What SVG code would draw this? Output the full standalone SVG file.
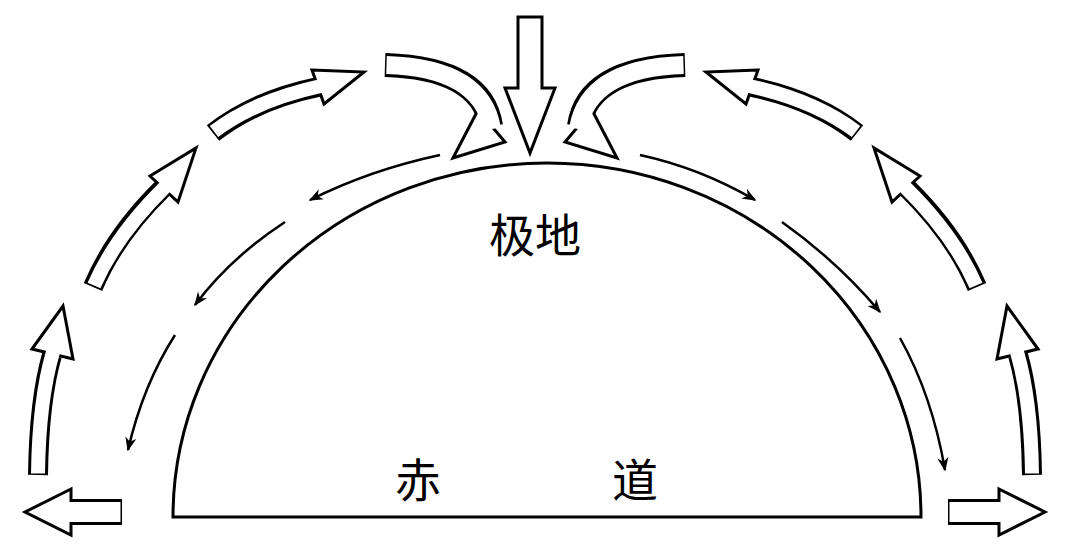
<svg xmlns="http://www.w3.org/2000/svg" width="1080" height="555" viewBox="0 0 1080 555">
<defs>
<marker id="ah" viewBox="0 0 10 10" refX="9" refY="5" markerWidth="16" markerHeight="14" orient="auto" markerUnits="userSpaceOnUse"><path d="M0,1 L10,5 L0,9 L3,5 Z" fill="#000"/></marker>
</defs>
<style>
.ob{fill:none;stroke:#000;stroke-linecap:butt}
.iw{fill:none;stroke:#fff;stroke-linecap:butt}
.hd{fill:#fff;stroke:#000;stroke-width:3;stroke-linejoin:miter}
.thin{fill:none;stroke:#000;stroke-width:2.5}
text{font-family:"Noto Sans CJK SC","Noto Sans CJK JP",sans-serif;font-size:46px;fill:#000}
</style>
<rect width="1080" height="555" fill="#fff"/>
<g id="dome"><path d="M173,517 A374,354 0 0 1 921,517 Z" fill="none" stroke="#000" stroke-width="3"/></g>
<g id="labels">
<text x="535" y="252" text-anchor="middle">极地</text>
<text x="418" y="497" text-anchor="middle">赤</text>
<text x="635" y="497" text-anchor="middle">道</text>
</g>
<g id="connectors">
<path class="thin" marker-end="url(#ah)" d="M440,155 Q370,170 310,200"/>
<path class="thin" marker-end="url(#ah)" d="M285,222 Q230,258 195,305"/>
<path class="thin" marker-end="url(#ah)" d="M175,335 Q143,385 128,450"/>
<path class="thin" marker-end="url(#ah)" d="M640,155 Q700,168 755,200"/>
<path class="thin" marker-end="url(#ah)" d="M782,222 Q838,262 880,312"/>
<path class="thin" marker-end="url(#ah)" d="M900,338 Q932,395 945,470"/>
</g>
<g id="center-arrow">
<polygon class="hd" points="518,17 542,17 542,88 555,88 530,153 505,88 518,88"/>
</g>
<g id="left-arrows">
<g id="a1"><path class="ob" stroke-width="26" d="M122,512 L71,512"/><polygon class="hd" points="71,489 25,512 71,535"/><path class="iw" stroke-width="20" d="M120.5,512 L69,512"/></g>
<g id="a2"><path class="ob" stroke-width="20" d="M38,475 Q39,400 52,355"/><polygon class="hd" points="32,349 63,306 73,359"/><path class="iw" stroke-width="14" d="M38,473.5 Q39,400 53,352"/></g>
<g id="a3"><path class="ob" stroke-width="20" d="M93,287 Q115,235 163,188"/><polygon class="hd" points="150,176 196,148 178,202"/><path class="iw" stroke-width="14" d="M94,285.5 Q116,235 166,186"/></g>
<g id="a4"><path class="ob" stroke-width="20" d="M213,133 Q255,100 318,87"/><polygon class="hd" points="312,70 364,72 324,104"/><path class="iw" stroke-width="14" d="M214,131.5 Q256,100 321,86"/></g>
<g id="a5"><path class="ob" stroke-width="24" d="M385,65 Q482,68 491,126"/><polygon class="hd" points="453,158 478,110 505,142"/><path class="iw" stroke-width="18" d="M386.5,65 Q482,68 492,129"/></g>
</g>
<g id="right-arrows" transform="matrix(-1,0,0,1,1070,0)">
<g><path class="ob" stroke-width="26" d="M122,512 L71,512"/><polygon class="hd" points="71,489 25,512 71,535"/><path class="iw" stroke-width="20" d="M120.5,512 L69,512"/></g>
<g><path class="ob" stroke-width="20" d="M38,475 Q39,400 52,355"/><polygon class="hd" points="32,349 63,306 73,359"/><path class="iw" stroke-width="14" d="M38,473.5 Q39,400 53,352"/></g>
<g><path class="ob" stroke-width="20" d="M93,287 Q115,235 163,188"/><polygon class="hd" points="150,176 196,148 178,202"/><path class="iw" stroke-width="14" d="M94,285.5 Q116,235 166,186"/></g>
<g><path class="ob" stroke-width="20" d="M213,133 Q255,100 318,87"/><polygon class="hd" points="312,70 364,72 324,104"/><path class="iw" stroke-width="14" d="M214,131.5 Q256,100 321,86"/></g>
<g><path class="ob" stroke-width="24" d="M385,65 Q482,68 491,126"/><polygon class="hd" points="453,158 478,110 505,142"/><path class="iw" stroke-width="18" d="M386.5,65 Q482,68 492,129"/></g>
</g>
</svg>
